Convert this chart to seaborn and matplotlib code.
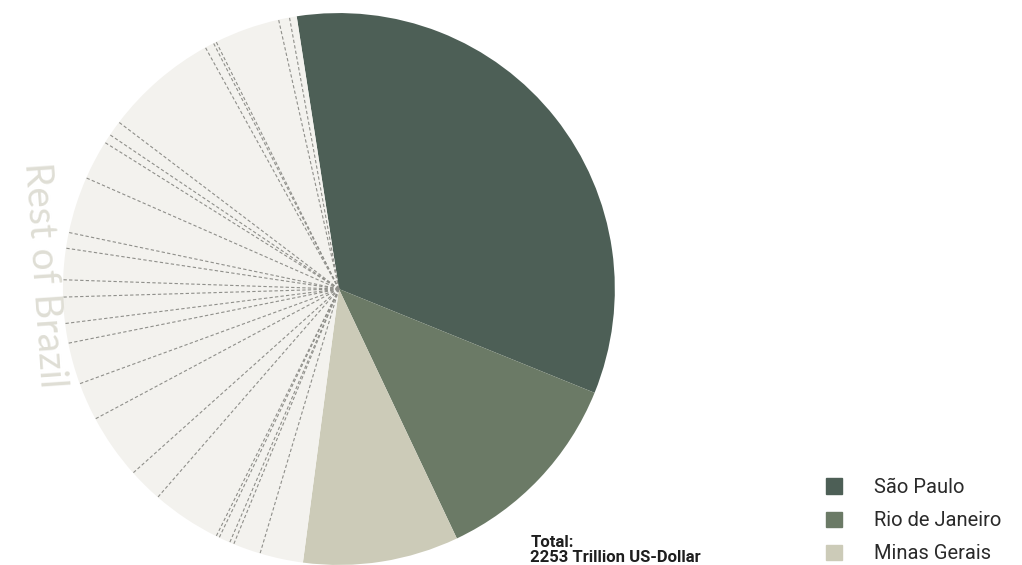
import matplotlib
matplotlib.use("Agg")
import matplotlib.pyplot as plt
import matplotlib.patches as mpatches
import numpy as np
import seaborn as sns

# shares of Brazil's GDP (%), clockwise from the top
main_states = ["São Paulo", "Rio de Janeiro", "Minas Gerais"]
main_shares = [33.58, 11.83, 9.11]
main_colors = ["#4d5f56", "#6b7a66", "#cccbb8"]

# remaining states, clockwise after Minas Gerais
rest_shares = [2.53, 1.61, 0.25, 0.67, 0.19, 4.06, 2.00, 3.81, 2.22, 2.43,
               1.15, 1.53, 1.00, 1.83, 0.92, 3.31, 2.31, 0.53, 0.89, 6.64,
               0.53, 0.17, 3.83, 0.64, 0.42]
rest_color = "#f3f2ee"
rest_label = "Rest of Brazil"

total_text = "Total:\n2253 Trillion US-Dollar"

sns.set_theme(style="white")
plt.rcParams["font.family"] = ["Roboto", "DejaVu Sans"]

fig = plt.figure(figsize=(10.22, 5.65), dpi=100)
ax = fig.add_axes([0.0616, 0.0, 0.540, 0.977])

values = main_shares + rest_shares
colors = main_colors + [rest_color] * len(rest_shares)

wedges, _ = ax.pie(values, colors=colors, startangle=98.8, counterclock=False,
                   radius=1, wedgeprops=dict(linewidth=0))
ax.set_xlim(-1, 1)
ax.set_ylim(-1, 1)
ax.set_aspect("equal")
ax.axis("off")

# dashed separators between the small states
rest_wedges = wedges[len(main_shares):]
for w in rest_wedges[1:]:
    a = np.deg2rad(w.theta2)
    ax.plot([0, np.cos(a)], [0, np.sin(a)], color="#8f8f8a", lw=0.8,
            ls=(0, (3, 2)), zorder=3)

ax.text(-1.07, 0.05, rest_label, rotation=-86, rotation_mode="anchor",
        ha="center", va="center", fontsize=28, color="#dfded5",
        family="Lato", fontweight="normal", zorder=4)

fig.text(0.519, 0.0, total_text, fontsize=12, fontweight="bold",
         color="#1e1e1e", ha="left", va="bottom", linespacing=1.0)

handles = [mpatches.Patch(color=c, label=s) for s, c in zip(main_states, main_colors)]
leg = fig.legend(handles=handles, loc="lower left", bbox_to_anchor=(0.808, 0.003),
                 frameon=False, fontsize=14.5, handlelength=0.8, handleheight=0.8,
                 handletextpad=1.6, labelspacing=0.7, borderpad=0,
                 borderaxespad=0, labelcolor="#2a2a2a")

plt.savefig("out.png", dpi=100)
